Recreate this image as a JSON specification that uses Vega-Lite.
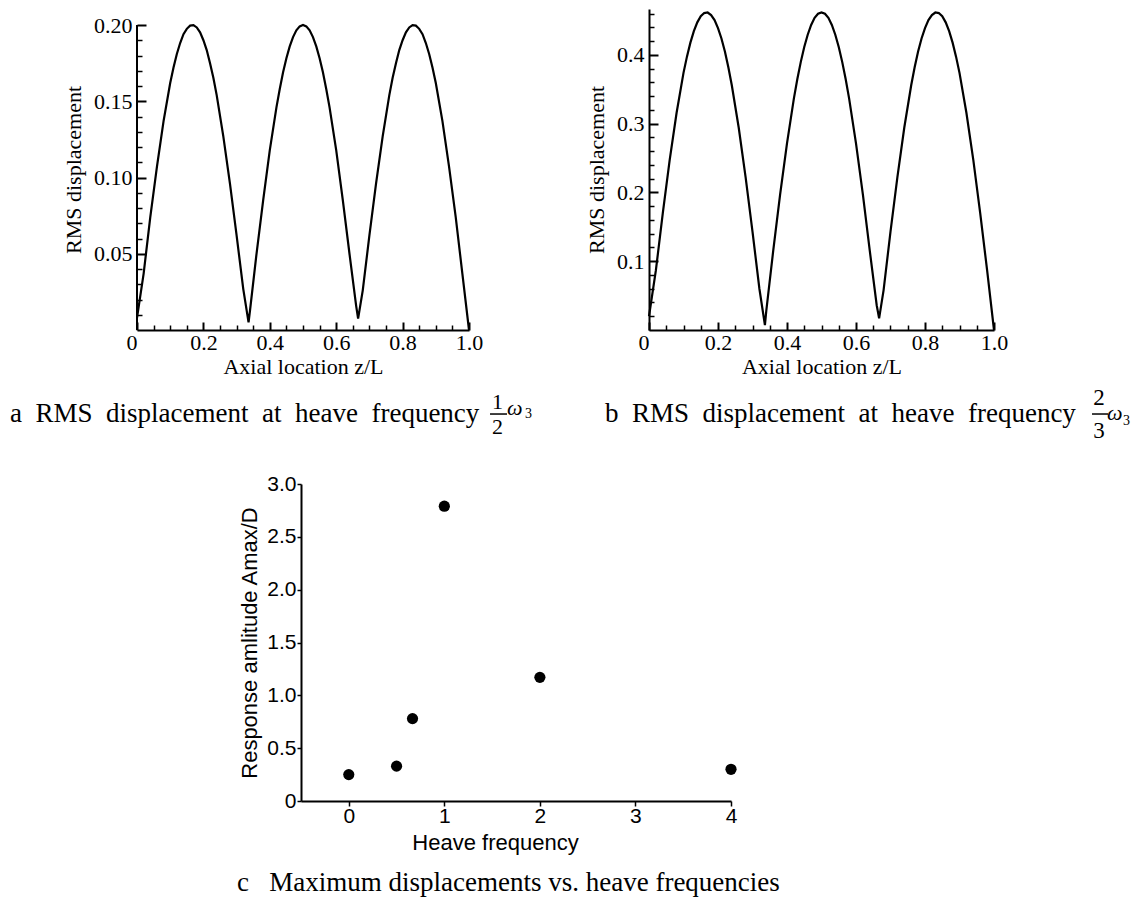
{
  "$schema": "https://vega.github.io/schema/vega-lite/v6.json",
  "padding": {"left": 10, "top": 7, "right": 5, "bottom": 2},
  "background": "white",
  "config": {
    "view": {"stroke": null},
    "axis": {"grid": false, "domainColor": "black", "tickColor": "black", "labelColor": "black", "titleColor": "black", "titleFontWeight": "normal", "labelOverlap": false, "labelFlush": false}
  },
  "datasets": {
    "rmsA": [{"z":0,"rms":0.008},{"z":0.02,"rms":0.037},{"z":0.04,"rms":0.074},{"z":0.06,"rms":0.107},{"z":0.08,"rms":0.137},{"z":0.1,"rms":0.162},{"z":0.11,"rms":0.1721},{"z":0.12,"rms":0.181},{"z":0.13,"rms":0.1882},{"z":0.14,"rms":0.194},{"z":0.15,"rms":0.1975},{"z":0.16,"rms":0.1996},{"z":0.17,"rms":0.1999},{"z":0.18,"rms":0.1984},{"z":0.19,"rms":0.1952},{"z":0.2,"rms":0.19},{"z":0.21,"rms":0.1836},{"z":0.22,"rms":0.175},{"z":0.23,"rms":0.1654},{"z":0.24,"rms":0.154},{"z":0.26,"rms":0.127},{"z":0.28,"rms":0.096},{"z":0.3,"rms":0.062},{"z":0.32,"rms":0.027},{"z":0.336,"rms":0.005},{"z":0.34,"rms":0.012},{"z":0.36,"rms":0.05},{"z":0.38,"rms":0.085},{"z":0.4,"rms":0.118},{"z":0.42,"rms":0.146},{"z":0.43,"rms":0.158},{"z":0.44,"rms":0.169},{"z":0.45,"rms":0.1782},{"z":0.46,"rms":0.186},{"z":0.47,"rms":0.1921},{"z":0.48,"rms":0.1965},{"z":0.49,"rms":0.1991},{"z":0.5,"rms":0.2},{"z":0.51,"rms":0.1991},{"z":0.52,"rms":0.1965},{"z":0.53,"rms":0.1921},{"z":0.54,"rms":0.186},{"z":0.55,"rms":0.1782},{"z":0.56,"rms":0.169},{"z":0.57,"rms":0.158},{"z":0.58,"rms":0.146},{"z":0.6,"rms":0.118},{"z":0.62,"rms":0.085},{"z":0.64,"rms":0.05},{"z":0.66,"rms":0.016},{"z":0.666,"rms":0.0075},{"z":0.68,"rms":0.026},{"z":0.7,"rms":0.062},{"z":0.72,"rms":0.096},{"z":0.74,"rms":0.127},{"z":0.76,"rms":0.154},{"z":0.77,"rms":0.1654},{"z":0.78,"rms":0.175},{"z":0.79,"rms":0.1836},{"z":0.8,"rms":0.19},{"z":0.81,"rms":0.1952},{"z":0.82,"rms":0.1984},{"z":0.83,"rms":0.1999},{"z":0.84,"rms":0.1996},{"z":0.85,"rms":0.1975},{"z":0.86,"rms":0.194},{"z":0.87,"rms":0.1882},{"z":0.88,"rms":0.181},{"z":0.89,"rms":0.1721},{"z":0.9,"rms":0.162},{"z":0.92,"rms":0.137},{"z":0.94,"rms":0.107},{"z":0.96,"rms":0.074},{"z":0.98,"rms":0.037},{"z":1,"rms":0.0}],
    "rmsB": [{"z":0,"rms":0.02},{"z":0.02,"rms":0.087},{"z":0.04,"rms":0.17},{"z":0.06,"rms":0.2475},{"z":0.08,"rms":0.316},{"z":0.1,"rms":0.374},{"z":0.11,"rms":0.3976},{"z":0.12,"rms":0.418},{"z":0.13,"rms":0.4347},{"z":0.14,"rms":0.4475},{"z":0.15,"rms":0.4563},{"z":0.16,"rms":0.461},{"z":0.17,"rms":0.4618},{"z":0.18,"rms":0.458},{"z":0.19,"rms":0.4509},{"z":0.2,"rms":0.439},{"z":0.21,"rms":0.424},{"z":0.22,"rms":0.405},{"z":0.23,"rms":0.3821},{"z":0.24,"rms":0.356},{"z":0.26,"rms":0.2945},{"z":0.28,"rms":0.2225},{"z":0.3,"rms":0.143},{"z":0.32,"rms":0.06},{"z":0.336,"rms":0.007},{"z":0.34,"rms":0.028},{"z":0.36,"rms":0.115},{"z":0.38,"rms":0.197},{"z":0.4,"rms":0.2715},{"z":0.42,"rms":0.337},{"z":0.43,"rms":0.365},{"z":0.44,"rms":0.39},{"z":0.45,"rms":0.4116},{"z":0.46,"rms":0.4295},{"z":0.47,"rms":0.4437},{"z":0.48,"rms":0.454},{"z":0.49,"rms":0.46},{"z":0.5,"rms":0.462},{"z":0.51,"rms":0.46},{"z":0.52,"rms":0.454},{"z":0.53,"rms":0.4437},{"z":0.54,"rms":0.4295},{"z":0.55,"rms":0.4116},{"z":0.56,"rms":0.39},{"z":0.57,"rms":0.365},{"z":0.58,"rms":0.337},{"z":0.6,"rms":0.2715},{"z":0.62,"rms":0.197},{"z":0.64,"rms":0.115},{"z":0.66,"rms":0.036},{"z":0.667,"rms":0.017},{"z":0.68,"rms":0.058},{"z":0.7,"rms":0.143},{"z":0.72,"rms":0.2225},{"z":0.74,"rms":0.2945},{"z":0.76,"rms":0.356},{"z":0.77,"rms":0.3821},{"z":0.78,"rms":0.405},{"z":0.79,"rms":0.424},{"z":0.8,"rms":0.439},{"z":0.81,"rms":0.4509},{"z":0.82,"rms":0.458},{"z":0.83,"rms":0.4618},{"z":0.84,"rms":0.461},{"z":0.85,"rms":0.4563},{"z":0.86,"rms":0.4475},{"z":0.87,"rms":0.4347},{"z":0.88,"rms":0.418},{"z":0.89,"rms":0.3976},{"z":0.9,"rms":0.374},{"z":0.92,"rms":0.316},{"z":0.94,"rms":0.2475},{"z":0.96,"rms":0.17},{"z":0.98,"rms":0.087},{"z":1,"rms":0.0}],
    "amp": [{"freq":0,"amp":0.25},{"freq":0.5,"amp":0.33},{"freq":0.667,"amp":0.78},{"freq":1,"amp":2.79},{"freq":2,"amp":1.17},{"freq":4,"amp":0.30}]
  },
  "spacing": 29,
  "vconcat": [
    {
      "bounds": "flush",
      "spacing": 180,
      "hconcat": [
        {
          "width": 332, "height": 321,
          "layer": [
            {
              "data": {"name": "rmsA"},
              "mark": {"type": "line", "color": "black", "strokeWidth": 2.2},
              "encoding": {
                "x": {"field": "z", "type": "quantitative", "scale": {"domain": [0, 1], "nice": false},
                  "axis": {"orient": "bottom", "values": [0, 0.2, 0.4, 0.6, 0.8, 1], "labelExpr": "datum.value == 0 ? '0' : format(datum.value, '.1f')", "labelAlign": {"condition": {"test": "datum.value == 0", "value": "right"}, "value": "center"}, "tickSize": -8, "tickWidth": 2, "domainWidth": 2, "labelFont": "Liberation Serif", "labelFontSize": 22, "labelPadding": 10, "title": "Axial location z/L", "titleFont": "Liberation Serif", "titleFontSize": 22, "titlePadding": 3}},
                "y": {"field": "rms", "type": "quantitative", "scale": {"domain": [0, 0.2105], "nice": false},
                  "axis": {"orient": "left", "values": [0.05, 0.1, 0.15, 0.2], "format": ".2f", "tickSize": -9, "tickWidth": 2, "domain": false, "labelFont": "Liberation Serif", "labelFontSize": 22, "labelPadding": 14, "title": "RMS displacement", "titleFont": "Liberation Serif", "titleFontSize": 22, "titlePadding": 8}}
              }
            },
            {
              "data": {"name": "rmsA"},
              "mark": {"type": "line", "opacity": 0},
              "encoding": {
                "x": {"field": "z", "type": "quantitative", "scale": {"domain": [0, 1], "nice": false},
                  "axis": {"orient": "bottom", "values": [0.05, 0.1, 0.15, 0.25, 0.3, 0.35, 0.45, 0.5, 0.55, 0.65, 0.7, 0.75, 0.85, 0.9, 0.95], "tickSize": -5, "tickWidth": 1.5, "labels": false, "domain": false, "title": null}},
                "y": {"field": "rms", "type": "quantitative", "scale": {"domain": [0, 0.2105], "nice": false},
                  "axis": {"orient": "left", "values": [0.01, 0.02, 0.03, 0.04, 0.06, 0.07, 0.08, 0.09, 0.11, 0.12, 0.13, 0.14, 0.16, 0.17, 0.18, 0.19], "tickSize": -5, "tickWidth": 1.5, "labels": false, "domain": false, "title": null}}
              }
            },
            {
              "data": {"values": [{}]},
              "mark": {"type": "rule", "color": "black", "strokeWidth": 2},
              "encoding": {
                "x": {"datum": 0, "type": "quantitative", "scale": {"domain": [0, 1], "nice": false}, "axis": null},
                "y": {"datum": 0, "type": "quantitative", "scale": {"domain": [0, 0.2105], "nice": false}, "axis": null},
                "y2": {"datum": 0.2}
              }
            },
            {
              "data": {"values": [{"t": "a\u00a0 RMS\u00a0 displacement\u00a0 at\u00a0 heave\u00a0 frequency"}]},
              "mark": {"type": "text", "align": "left", "baseline": "alphabetic", "font": "Liberation Serif", "fontSize": 27, "color": "black"},
              "encoding": {
                "x": {"datum": -0.3825, "type": "quantitative", "scale": {"domain": [0, 1], "nice": false}, "axis": null},
                "y": {"datum": -0.0603, "type": "quantitative", "scale": {"domain": [0, 0.2105], "nice": false}, "axis": null},
                "text": {"field": "t"}
              }
            },
            {
              "data": {"values": [{"t": "1"}]},
              "mark": {"type": "text", "align": "center", "baseline": "alphabetic", "font": "Liberation Serif", "fontSize": 22, "color": "black"},
              "encoding": {
                "x": {"datum": 1.0858, "type": "quantitative", "scale": {"domain": [0, 1], "nice": false}, "axis": null},
                "y": {"datum": -0.0518, "type": "quantitative", "scale": {"domain": [0, 0.2105], "nice": false}, "axis": null},
                "text": {"field": "t"}
              }
            },
            {
              "data": {"values": [{}]},
              "mark": {"type": "rule", "color": "black", "strokeWidth": 1.5},
              "encoding": {
                "x": {"datum": 1.0633, "type": "quantitative", "scale": {"domain": [0, 1], "nice": false}, "axis": null},
                "x2": {"datum": 1.1145},
                "y": {"datum": -0.0551, "type": "quantitative", "scale": {"domain": [0, 0.2105], "nice": false}, "axis": null}
              }
            },
            {
              "data": {"values": [{"t": "2"}]},
              "mark": {"type": "text", "align": "center", "baseline": "alphabetic", "font": "Liberation Serif", "fontSize": 22, "color": "black"},
              "encoding": {
                "x": {"datum": 1.0858, "type": "quantitative", "scale": {"domain": [0, 1], "nice": false}, "axis": null},
                "y": {"datum": -0.0682, "type": "quantitative", "scale": {"domain": [0, 0.2105], "nice": false}, "axis": null},
                "text": {"field": "t"}
              }
            },
            {
              "data": {"values": [{"t": "ω"}]},
              "mark": {"type": "text", "align": "left", "baseline": "alphabetic", "font": "Liberation Serif", "fontStyle": "italic", "fontSize": 22, "color": "black"},
              "encoding": {
                "x": {"datum": 1.1145, "type": "quantitative", "scale": {"domain": [0, 1], "nice": false}, "axis": null},
                "y": {"datum": -0.0557, "type": "quantitative", "scale": {"domain": [0, 0.2105], "nice": false}, "axis": null},
                "text": {"field": "t"}
              }
            },
            {
              "data": {"values": [{"t": "3"}]},
              "mark": {"type": "text", "align": "left", "baseline": "alphabetic", "font": "Liberation Serif", "fontSize": 14, "color": "black"},
              "encoding": {
                "x": {"datum": 1.1687, "type": "quantitative", "scale": {"domain": [0, 1], "nice": false}, "axis": null},
                "y": {"datum": -0.0577, "type": "quantitative", "scale": {"domain": [0, 0.2105], "nice": false}, "axis": null},
                "text": {"field": "t"}
              }
            }
          ],
          "resolve": {"axis": {"x": "independent", "y": "independent"}}
        },
        {
          "width": 345, "height": 321,
          "layer": [
            {
              "data": {"name": "rmsB"},
              "mark": {"type": "line", "color": "black", "strokeWidth": 2.2},
              "encoding": {
                "x": {"field": "z", "type": "quantitative", "scale": {"domain": [0, 1], "nice": false},
                  "axis": {"orient": "bottom", "values": [0, 0.2, 0.4, 0.6, 0.8, 1], "labelExpr": "datum.value == 0 ? '0' : format(datum.value, '.1f')", "labelAlign": {"condition": {"test": "datum.value == 0", "value": "right"}, "value": "center"}, "tickSize": -8, "tickWidth": 2, "domainWidth": 2, "labelFont": "Liberation Serif", "labelFontSize": 22, "labelPadding": 10, "title": "Axial location z/L", "titleFont": "Liberation Serif", "titleFontSize": 22, "titlePadding": 3}},
                "y": {"field": "rms", "type": "quantitative", "scale": {"domain": [0, 0.4669], "nice": false},
                  "axis": {"orient": "left", "values": [0.1, 0.2, 0.3, 0.4], "format": ".1f", "tickSize": -9, "tickWidth": 2, "domainWidth": 2, "labelFont": "Liberation Serif", "labelFontSize": 22, "labelPadding": 14, "title": "RMS displacement", "titleFont": "Liberation Serif", "titleFontSize": 22, "titlePadding": 8}}
              }
            },
            {
              "data": {"name": "rmsB"},
              "mark": {"type": "line", "opacity": 0},
              "encoding": {
                "x": {"field": "z", "type": "quantitative", "scale": {"domain": [0, 1], "nice": false},
                  "axis": {"orient": "bottom", "values": [0.05, 0.1, 0.15, 0.25, 0.3, 0.35, 0.45, 0.5, 0.55, 0.65, 0.7, 0.75, 0.85, 0.9, 0.95], "tickSize": -5, "tickWidth": 1.5, "labels": false, "domain": false, "title": null}},
                "y": {"field": "rms", "type": "quantitative", "scale": {"domain": [0, 0.4669], "nice": false},
                  "axis": {"orient": "left", "values": [0.02, 0.04, 0.06, 0.08, 0.12, 0.14, 0.16, 0.18, 0.22, 0.24, 0.26, 0.28, 0.32, 0.34, 0.36, 0.38, 0.42, 0.44, 0.46], "tickSize": -5, "tickWidth": 1.5, "labels": false, "domain": false, "title": null}}
              }
            },
            {
              "data": {"values": [{"t": "b\u00a0 RMS\u00a0 displacement\u00a0 at\u00a0 heave\u00a0 frequency"}]},
              "mark": {"type": "text", "align": "left", "baseline": "alphabetic", "font": "Liberation Serif", "fontSize": 27, "color": "black"},
              "encoding": {
                "x": {"datum": -0.1275, "type": "quantitative", "scale": {"domain": [0, 1], "nice": false}, "axis": null},
                "y": {"datum": -0.1338, "type": "quantitative", "scale": {"domain": [0, 0.4669], "nice": false}, "axis": null},
                "text": {"field": "t"}
              }
            },
            {
              "data": {"values": [{"t": "2"}]},
              "mark": {"type": "text", "align": "center", "baseline": "alphabetic", "font": "Liberation Serif", "fontSize": 23, "color": "black"},
              "encoding": {
                "x": {"datum": 1.3043, "type": "quantitative", "scale": {"domain": [0, 1], "nice": false}, "axis": null},
                "y": {"datum": -0.1091, "type": "quantitative", "scale": {"domain": [0, 0.4669], "nice": false}, "axis": null},
                "text": {"field": "t"}
              }
            },
            {
              "data": {"values": [{}]},
              "mark": {"type": "rule", "color": "black", "strokeWidth": 1.5},
              "encoding": {
                "x": {"datum": 1.2841, "type": "quantitative", "scale": {"domain": [0, 1], "nice": false}, "axis": null},
                "x2": {"datum": 1.3304},
                "y": {"datum": -0.1222, "type": "quantitative", "scale": {"domain": [0, 0.4669], "nice": false}, "axis": null}
              }
            },
            {
              "data": {"values": [{"t": "3"}]},
              "mark": {"type": "text", "align": "center", "baseline": "alphabetic", "font": "Liberation Serif", "fontSize": 23, "color": "black"},
              "encoding": {
                "x": {"datum": 1.3043, "type": "quantitative", "scale": {"domain": [0, 1], "nice": false}, "axis": null},
                "y": {"datum": -0.1571, "type": "quantitative", "scale": {"domain": [0, 0.4669], "nice": false}, "axis": null},
                "text": {"field": "t"}
              }
            },
            {
              "data": {"values": [{"t": "ω"}]},
              "mark": {"type": "text", "align": "left", "baseline": "alphabetic", "font": "Liberation Serif", "fontStyle": "italic", "fontSize": 22, "color": "black"},
              "encoding": {
                "x": {"datum": 1.3275, "type": "quantitative", "scale": {"domain": [0, 1], "nice": false}, "axis": null},
                "y": {"datum": -0.1309, "type": "quantitative", "scale": {"domain": [0, 0.4669], "nice": false}, "axis": null},
                "text": {"field": "t"}
              }
            },
            {
              "data": {"values": [{"t": "3"}]},
              "mark": {"type": "text", "align": "left", "baseline": "alphabetic", "font": "Liberation Serif", "fontSize": 14, "color": "black"},
              "encoding": {
                "x": {"datum": 1.3739, "type": "quantitative", "scale": {"domain": [0, 1], "nice": false}, "axis": null},
                "y": {"datum": -0.1382, "type": "quantitative", "scale": {"domain": [0, 0.4669], "nice": false}, "axis": null},
                "text": {"field": "t"}
              }
            }
          ],
          "resolve": {"axis": {"x": "independent", "y": "independent"}}
        }
      ]
    },
    {
      "bounds": "flush",
      "spacing": 20,
      "hconcat": [
        {
          "width": 144, "height": 317,
          "data": {"values": []},
          "mark": "point"
        },
        {
          "width": 430, "height": 317,
          "layer": [
            {
              "data": {"name": "amp"},
              "mark": {"type": "circle", "color": "black", "size": 125, "opacity": 1},
              "encoding": {
                "x": {"field": "freq", "type": "quantitative", "scale": {"domain": [-0.5, 4], "nice": false},
                  "axis": {"orient": "bottom", "values": [0, 1, 2, 3, 4], "format": "d", "tickSize": 5, "tickWidth": 1.5, "domainWidth": 2, "labelFont": "Liberation Sans", "labelFontSize": 21, "labelPadding": -1, "title": "Heave frequency", "titleFont": "Liberation Sans", "titleFontSize": 22, "titlePadding": 6, "titleX": 194}},
                "y": {"field": "amp", "type": "quantitative", "scale": {"domain": [0, 3], "nice": false},
                  "axis": {"orient": "left", "values": [0, 0.5, 1, 1.5, 2, 2.5, 3], "labelExpr": "datum.value == 0 ? '0' : format(datum.value, '.1f')", "tickSize": 4, "tickWidth": 1.5, "domainWidth": 2, "labelFont": "Liberation Sans", "labelFontSize": 21, "labelPadding": 1, "title": "Response amlitude Amax/D", "titleFont": "Liberation Sans", "titleFontSize": 22, "titlePadding": 5}}
              }
            },
            {
              "data": {"values": [{"t": "c\u00a0 \u00a0Maximum displacements vs. heave frequencies"}]},
              "mark": {"type": "text", "align": "left", "baseline": "alphabetic", "font": "Liberation Serif", "fontSize": 27, "color": "black"},
              "encoding": {
                "x": {"datum": -1.1697, "type": "quantitative", "scale": {"domain": [-0.5, 4], "nice": false}, "axis": null},
                "y": {"datum": -0.8517, "type": "quantitative", "scale": {"domain": [0, 3], "nice": false}, "axis": null},
                "text": {"field": "t"}
              }
            }
          ],
          "resolve": {"axis": {"x": "independent", "y": "independent"}}
        }
      ]
    }
  ]
}
